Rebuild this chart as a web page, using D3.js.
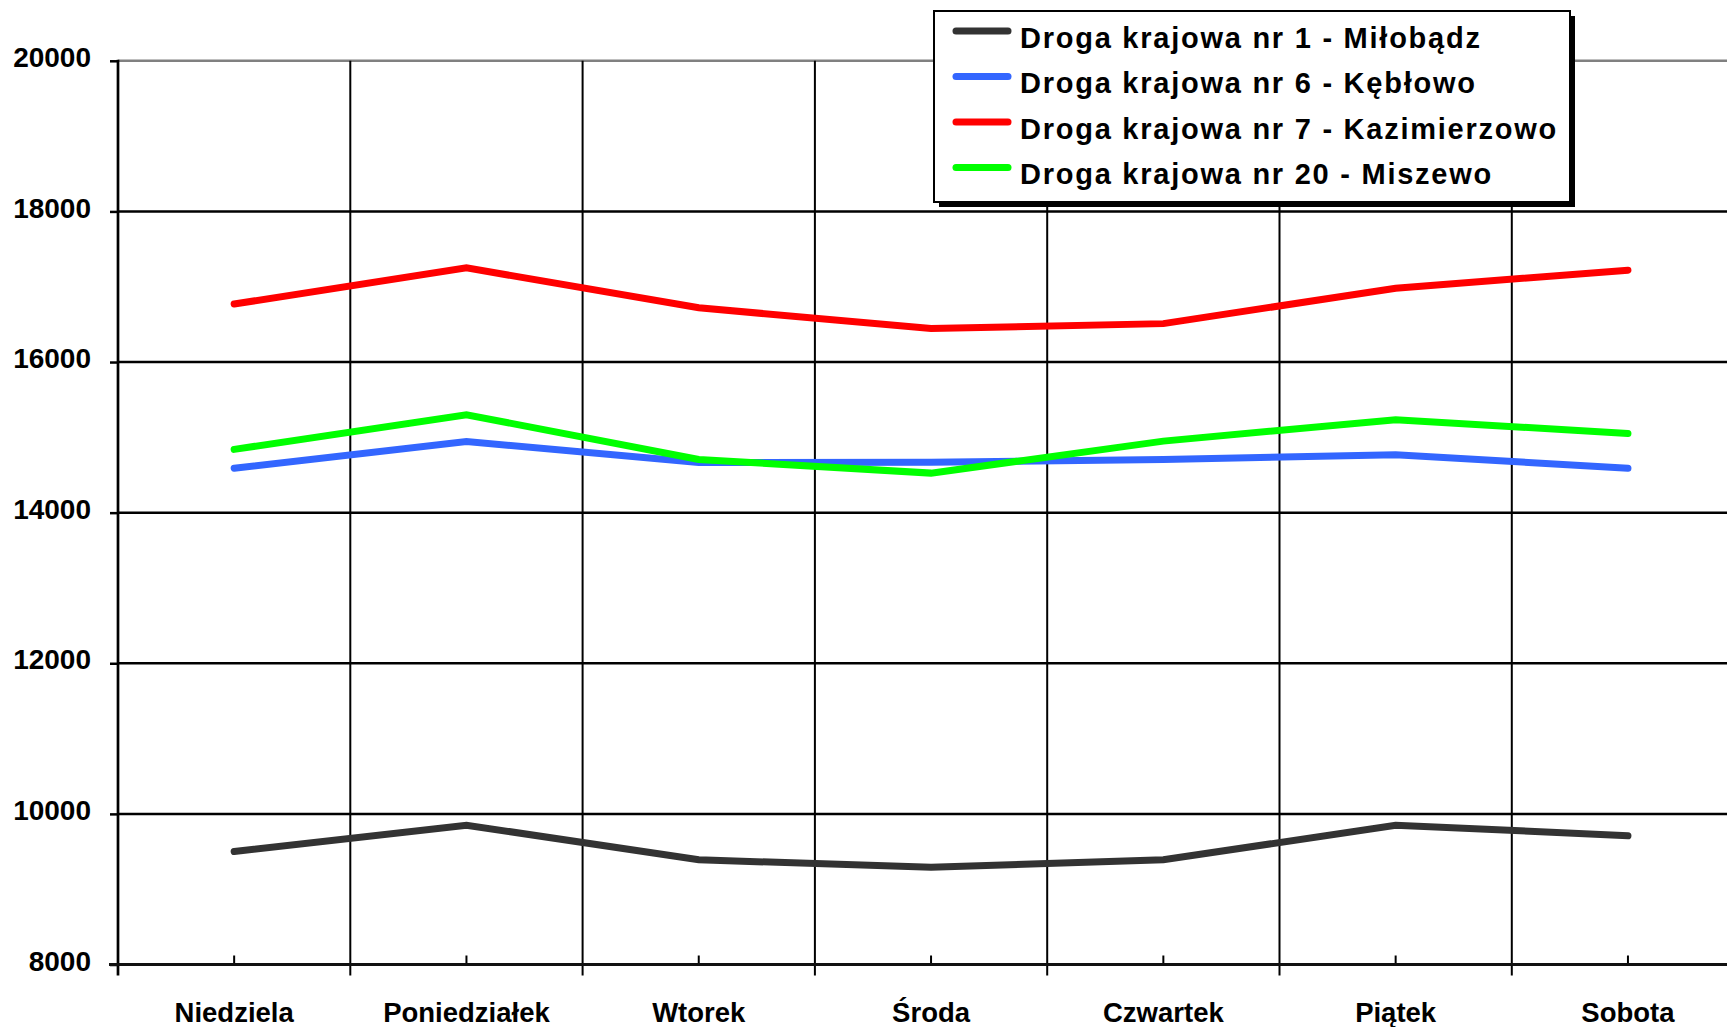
<!DOCTYPE html>
<html>
<head>
<meta charset="utf-8">
<script src="https://cdn.jsdelivr.net/npm/d3@7"></script>
<style>
  html, body { margin: 0; padding: 0; background: #fff; }
  svg { display: block; }
  text { font-family: "Liberation Sans", Arial, sans-serif; font-weight: bold; fill: #000; }
</style>
</head>
<body>
<svg id="chart" width="1727" height="1027"></svg>
<script>
const categories = ["Niedziela", "Poniedziałek", "Wtorek", "Środa", "Czwartek", "Piątek", "Sobota"];
const seriesNames = [
  "Droga krajowa nr 1 - Miłobądz",
  "Droga krajowa nr 6 - Kębłowo",
  "Droga krajowa nr 7 - Kazimierzowo",
  "Droga krajowa nr 20 - Miszewo"
];
const seriesColors = ["#333333", "#3366FF", "#FF0000", "#00FF00"];
const dk1 = [9500, 9850, 9390, 9290, 9390, 9850, 9710];
const dk6 = [14590, 14945, 14665, 14670, 14705, 14770, 14590];
const dk7 = [16770, 17250, 16720, 16445, 16510, 16980, 17220];
const dk20 = [14840, 15300, 14705, 14525, 14950, 15235, 15050];
const yTicks = [8000, 10000, 12000, 14000, 16000, 18000, 20000];

const seriesValues = [dk1, dk6, dk7, dk20];

const svg = d3.select("#chart");
const x0 = 118, band = 232.3;
const x = d3.scaleBand().domain(categories).range([x0, x0 + band * categories.length]).padding(0);
const y = d3.scaleLinear().domain([8000, 20000]).range([964.5, 60.8]);
const xRight = x0 + band * categories.length;

// horizontal gridlines
svg.append("g").selectAll("line").data(yTicks).join("line")
  .attr("x1", x0).attr("x2", xRight)
  .attr("y1", d => y(d)).attr("y2", d => y(d))
  .attr("stroke", d => d === 20000 ? "#808080" : "#000")
  .attr("stroke-width", 2.5);

// vertical gridlines at category boundaries
const bounds = categories.slice(1).map(c => x(c));
svg.append("g").selectAll("line").data(bounds).join("line")
  .attr("x1", d => d).attr("x2", d => d)
  .attr("y1", y(20000)).attr("y2", y(8000) + 11)
  .attr("stroke", "#000").attr("stroke-width", 2);

// y axis
const yAxis = d3.axisLeft(y).tickValues(yTicks).tickSize(8).tickPadding(19).tickFormat(d3.format("d"));
const gy = svg.append("g").attr("transform", `translate(${x0},0)`).call(yAxis);
gy.select(".domain").remove();
gy.selectAll(".tick line").attr("stroke", "#000").attr("stroke-width", 2.5);
gy.selectAll(".tick text").attr("font-size", 28).attr("font-family", "Liberation Sans, Arial, sans-serif")
  .attr("font-weight", "bold").attr("fill", "#000").attr("dy", "0.2em");
svg.append("line").attr("x1", x0).attr("x2", x0).attr("y1", y(20000) - 1).attr("y2", y(8000) + 11)
  .attr("stroke", "#000").attr("stroke-width", 2.7);

// x axis
const xAxis = d3.axisBottom(x).tickSize(-9).tickPadding(38);
const gx = svg.append("g").attr("transform", `translate(0,${y(8000)})`).call(xAxis);
gx.select(".domain").remove();
gx.selectAll(".tick line").attr("stroke", "#000").attr("stroke-width", 2);
gx.selectAll(".tick text").attr("font-size", 27.5).attr("font-family", "Liberation Sans, Arial, sans-serif")
  .attr("font-weight", "bold").attr("fill", "#000");
svg.append("line").attr("x1", x0 - 9).attr("x2", xRight).attr("y1", y(8000)).attr("y2", y(8000))
  .attr("stroke", "#111").attr("stroke-width", 3);

// lines
const line = d3.line().x((d, i) => x(categories[i]) + x.bandwidth() / 2).y(d => y(d));
svg.append("g").selectAll("path").data(seriesValues).join("path")
  .attr("d", d => line(d))
  .attr("fill", "none")
  .attr("stroke", (d, i) => seriesColors[i])
  .attr("stroke-width", 7)
  .attr("stroke-linecap", "round")
  .attr("stroke-linejoin", "miter");

// legend
const lg = svg.append("g");
lg.append("rect").attr("x", 939).attr("y", 16).attr("width", 636).attr("height", 191).attr("fill", "#000");
lg.append("rect").attr("x", 934).attr("y", 11).attr("width", 636).attr("height", 191)
  .attr("fill", "#fff").attr("stroke", "#000").attr("stroke-width", 2);
const rows = lg.selectAll("g.row").data(seriesNames).join("g").attr("class", "row")
  .attr("transform", (d, i) => `translate(0,${31 + i * 45.5})`);
rows.append("line").attr("x1", 956).attr("x2", 1008).attr("y1", 0).attr("y2", 0)
  .attr("stroke", (d, i) => seriesColors[i]).attr("stroke-width", 7).attr("stroke-linecap", "round");
rows.append("text").attr("x", 1020).attr("y", 16.5).attr("font-size", 29)
  .attr("letter-spacing", "1.75px").text(d => d);
</script>
</body>
</html>
